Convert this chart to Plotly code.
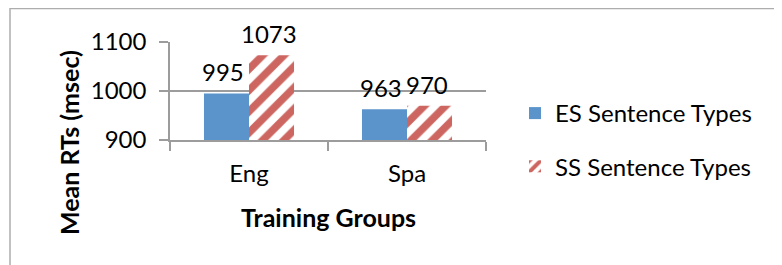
import plotly.graph_objects as go

# ---- data ----
categories = ["Eng", "Spa"]
es_values = [995, 963]
ss_values = [1073, 970]
series_names = ["ES Sentence Types", "SS Sentence Types"]
y_ticks = [900, 1000, 1100]
x_title = "Training Groups"
y_title = "Mean RTs (msec)"

# ---- layout (reference-pixel coordinates; page body has an 8px margin) ----
OFF = 8
W, H = 782 - OFF, 265 - OFF
PLOT_L, PLOT_R, PLOT_T, PLOT_B = 170, 486, 42, 140   # reference pixels
L = PLOT_L - OFF
T = PLOT_T - OFF
R = W - (PLOT_R - OFF)
B = H - (PLOT_B - OFF)
PW = PLOT_R - PLOT_L
PH = PLOT_B - PLOT_T

def px_x(x):
    return (x - PLOT_L) / PW

def px_y(y):
    return (PLOT_B - y) / PH

FONT = "Lato"
BLUE = "#5B93CB"
RED = "#CD6660"
GRID = "#9C9C9C"
BARGAP = 0.43
HALF_BAR = PW / len(categories) * (1 - BARGAP) / 4   # half of one bar width (px)

fig = go.Figure()
fig.add_trace(go.Bar(
    x=categories, y=es_values, name=series_names[0],
    marker=dict(color=BLUE, line=dict(width=0)),
    legendgroup="a",
))
fig.add_trace(go.Bar(
    x=categories, y=ss_values, name=series_names[1],
    marker=dict(color="white", line=dict(width=0),
                pattern=dict(shape="/", fgcolor=RED, bgcolor="white",
                             size=15, solidity=0.5, fillmode="replace")),
    legendgroup="b",
))

# data labels, placed at each bar's value through the axes
label_annotations = []
for vals, side in ((es_values, -1), (ss_values, 1)):
    for cat, v in zip(categories, vals):
        label_annotations.append(dict(
            x=cat, y=v, xref="x", yref="y", text=str(v),
            xanchor="center", yanchor="bottom", showarrow=False,
            xshift=side * HALF_BAR - 3, yshift=5,
            font=dict(family=FONT, size=24, color="black"),
        ))

fig.update_layout(
    width=W, height=H,
    margin=dict(l=L, r=R, t=T, b=B, autoexpand=False),
    paper_bgcolor="white", plot_bgcolor="white",
    barmode="group", bargap=BARGAP, bargroupgap=0,
    font=dict(family=FONT, size=24, color="black"),
    showlegend=True,
    legend=dict(x=px_x(515), xanchor="left", y=px_y(91), yanchor="top",
                font=dict(family=FONT, size=24, color="black"),
                tracegroupgap=19, bgcolor="rgba(0,0,0,0)",
                traceorder="grouped", maxheight=220),
    xaxis=dict(
        showline=True, linecolor=GRID, linewidth=1.5,
        ticks="outside", tickson="boundaries", ticklen=9,
        tickcolor=GRID, tickwidth=1.5, showgrid=False,
        tickfont=dict(family=FONT, size=24, color="black"),
        ticklabelstandoff=11,
    ),
    yaxis=dict(
        range=[900, 1100], tickvals=y_ticks,
        showgrid=True, gridcolor=GRID, gridwidth=1.5,
        showline=True, linecolor=GRID, linewidth=1.5,
        ticks="outside", ticklen=9, tickcolor=GRID, tickwidth=1.5,
        tickfont=dict(family=FONT, size=24, color="black"),
        ticklabelstandoff=8, zeroline=False,
    ),
    shapes=[dict(type="rect", xref="paper", yref="paper",
                 x0=px_x(10), x1=px_x(781), y0=px_y(330), y1=px_y(8.5),
                 line=dict(color="#ADADAD", width=1.5), layer="below")],
    annotations=label_annotations + [
        dict(text="<b>" + x_title + "</b>", xref="paper", yref="paper",
             x=0.5, y=px_y(217), xanchor="center", yanchor="middle",
             showarrow=False, font=dict(family=FONT, size=25, color="black")),
        dict(text="<b>" + y_title + "</b>", xref="paper", yref="paper",
             x=px_x(69), y=px_y(143), xanchor="center", yanchor="middle",
             textangle=-90, showarrow=False,
             font=dict(family=FONT, size=25, color="black")),
    ],
)

fig.write_html("out.html")
